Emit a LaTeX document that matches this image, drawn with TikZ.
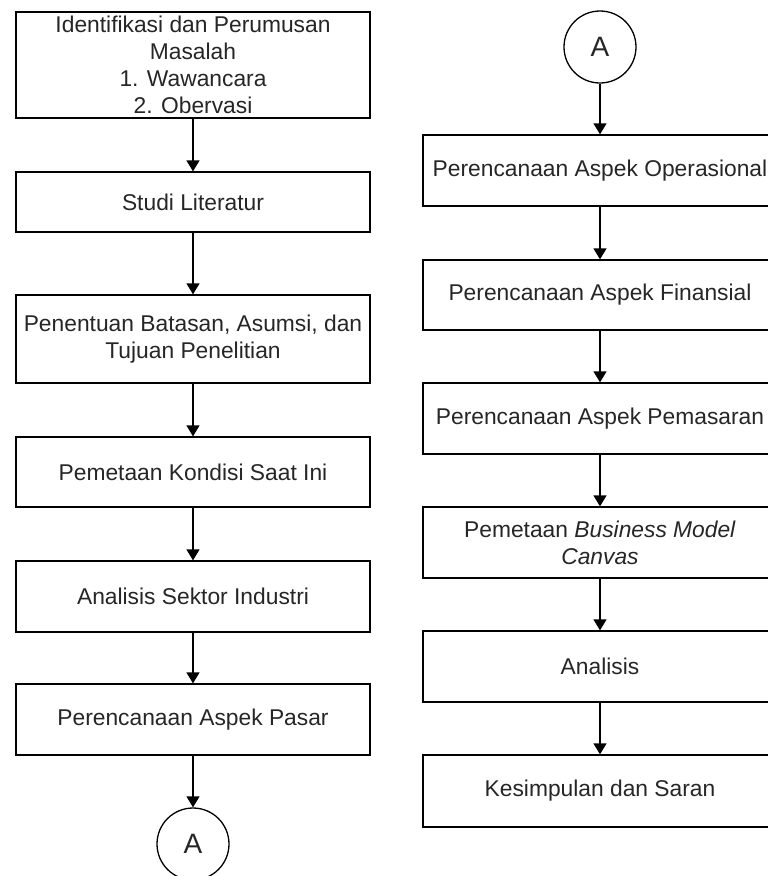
\documentclass[tikz,border=0pt]{standalone}
\usepackage{fontspec}
\setmainfont{Liberation Sans}
\usetikzlibrary{arrows.meta}
\definecolor{txt}{HTML}{262626}
\tikzset{
  box/.style={draw=black, line width=1.3pt, rectangle, minimum width=354pt, align=center,
    text=txt, font=\fontsize{22.8}{26.8}\selectfont, inner sep=2pt},
  conn/.style={draw=black, line width=1.3pt, circle, minimum size=72pt, inner sep=0pt,
    text=txt, font=\fontsize{28}{32}\selectfont},
  flow/.style={draw=black, line width=1.3pt, -{Triangle[width=13pt,length=11pt]}}
}
\begin{document}
\begin{tikzpicture}[x=1pt,y=-1pt]
\useasboundingbox (0,0) rectangle (768,876);
\clip (0,0) rectangle (768,876);
% left column
\node[box, minimum height=106pt] (l1) at (193,65) {Identifikasi dan Perumusan\\Masalah\\1. Wawancara\\2. Obervasi};
\node[box, minimum height=60pt] (l2) at (193,202) {Studi Literatur};
\node[box, minimum height=88pt] (l3) at (193,339) {Penentuan Batasan, Asumsi, dan\\Tujuan Penelitian};
\node[box, minimum height=70pt] (l4) at (193,472) {Pemetaan Kondisi Saat Ini};
\node[box, minimum height=71pt] (l5) at (193,596.5) {Analisis Sektor Industri};
\node[box, minimum height=71pt] (l6) at (193,719.5) {Perencanaan Aspek Pasar};
\node[conn] (la) at (193,844) {A};
% right column
\node[conn] (ra) at (600,47) {A};
\node[box, minimum height=71pt] (r1) at (600,170.5) {Perencanaan Aspek Operasional};
\node[box, minimum height=70pt] (r2) at (600,295) {Perencanaan Aspek Finansial};
\node[box, minimum height=71pt] (r3) at (600,418.5) {Perencanaan Aspek Pemasaran};
\node[box, minimum height=71pt] (r4) at (600,542.5) {Pemetaan \textit{Business Model}\\\textit{Canvas}};
\node[box, minimum height=71pt] (r5) at (600,666.5) {Analisis};
\node[box, minimum height=72pt] (r6) at (600,791) {Kesimpulan dan Saran};
% connectors
\draw[flow] (l1) -- (l2);
\draw[flow] (l2) -- (l3);
\draw[flow] (l3) -- (l4);
\draw[flow] (l4) -- (l5);
\draw[flow] (l5) -- (l6);
\draw[flow] (l6) -- (la);
\draw[flow] (ra) -- (r1);
\draw[flow] (r1) -- (r2);
\draw[flow] (r2) -- (r3);
\draw[flow] (r3) -- (r4);
\draw[flow] (r4) -- (r5);
\draw[flow] (r5) -- (r6);
\end{tikzpicture}
\end{document}
